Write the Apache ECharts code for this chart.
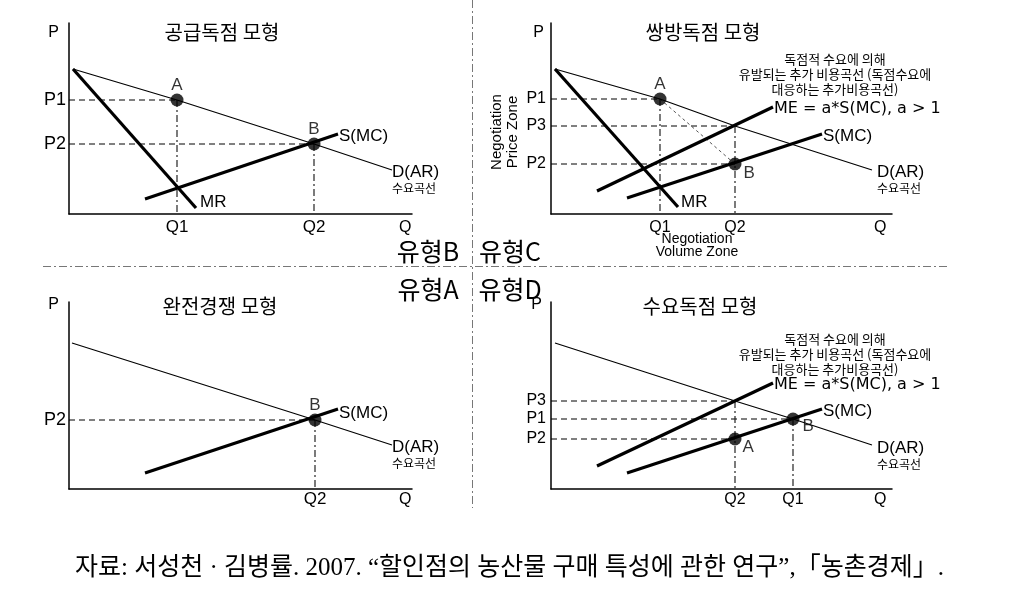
<!DOCTYPE html>
<html><head><meta charset="utf-8">
<script src="https://cdn.jsdelivr.net/npm/echarts@6/dist/echarts.min.js"></script>
<style>html,body{margin:0;padding:0;background:#fff}#c{width:1012px;height:599px}</style>
</head><body><div id="c"></div>
<script>
// ---------------- data ----------------
const panelTitles = ['공급독점 모형', '쌍방독점 모형', '완전경쟁 모형', '수요독점 모형'];
const typeLabels = ['유형B', '유형C', '유형A', '유형D'];
const noteLines = ['독점적 수요에 의해', '유발되는 추가 비용곡선 (독점수요에', '대응하는 추가비용곡선)'];
const meLabel = 'ME = a*S(MC), a > 1';
const caption = '자료: 서성천 · 김병률. 2007. “할인점의 농산물 구매 특성에 관한 연구”,「농촌경제」.';

// Panel 1: 공급독점 모형 (유형B)
const p1Demand = [[4,145],[108,114],[245,70],[323,44]];
const p1MR = [[4,145],[127,6]];
const p1MC = [[76,15],[269,80]];
const p1Points = [['A',108,114],['B',245,70]];
const p1PTicks = [['P1',114],['P2',70]];
const p1QTicks = [['Q1',108],['Q2',245]];
const p1HGuides = [[114,108],[70,245]];   // [price, quantity end]
const p1VGuides = [[108,114],[245,70]];   // [quantity, price top]

// Panel 2: 쌍방독점 모형 (유형C)
const p2Demand = [[4,145],[109,115],[184,88],[321,44]];
const p2MR = [[4,145],[127,7]];
const p2ME = [[46,23],[222,107]];
const p2MC = [[76,16],[271,80]];
const p2Points = [['A',109,115],['B',184,50]];
const p2PTicks = [['P1',115],['P3',88],['P2',50]];
const p2QTicks = [['Q1',109],['Q2',184]];
const p2HGuides = [[115,109],[88,184],[50,184]];
const p2VGuides = [[109,115],[184,88]];
const p2Diag = [[109,115],[184,50]];

// Panel 3: 완전경쟁 모형 (유형A)
const p3Demand = [[3,146],[246,69],[323,44]];
const p3MC = [[76,16],[269,80]];
const p3Points = [['B',246,69]];
const p3PTicks = [['P2',69]];
const p3QTicks = [['Q2',246]];
const p3HGuides = [[69,246]];
const p3VGuides = [[246,69]];

// Panel 4: 수요독점 모형 (유형D)
const p4Demand = [[4,146],[184,88],[242,70],[321,44]];
const p4ME = [[46,23],[222,106]];
const p4MC = [[76,16],[271,80]];
const p4Points = [['A',184,50],['B',242,70]];
const p4PTicks = [['P3',88],['P1',70],['P2',50]];
const p4QTicks = [['Q2',184],['Q1',242]];
const p4HGuides = [[88,184],[70,242],[50,184]];
const p4VGuides = [[184,88],[242,70]];

// ---------------- chart ----------------
const LATIN = "'Liberation Sans', Arial, sans-serif";
const WIDE = "'DejaVu Sans', sans-serif";
const KR = "'Noto Sans CJK KR', sans-serif";
const chart = echarts.init(document.getElementById('c'));

const grids = [
  {left:69, top:23, width:343, height:191},
  {left:551, top:23, width:341, height:191},
  {left:69, top:302, width:343, height:187},
  {left:551, top:302, width:341, height:187}
];
const tickSets = [[p1PTicks,p1QTicks],[p2PTicks,p2QTicks],[p3PTicks,p3QTicks],[p4PTicks,p4QTicks]];
const pFont = [18,16,18,16];
const qFont = [17,16,17,16];
const qMargin = [5,6,2,3];
const pMargin = [3,5,3,5];
const pNameGap = [-2,-2,5,5];
const pNamePad = [10,7,10,9];
const qPad = [6,6,3,3];

const xAxes = [], yAxes = [];
grids.forEach((g,i)=>{
  const pt = tickSets[i][0], qt = tickSets[i][1];
  xAxes.push({gridIndex:i, type:'value', min:0, max:g.width,
    axisLine:{onZero:false, lineStyle:{color:'#000', width:1.5}},
    axisTick:{show:false}, splitLine:{show:false},
    axisLabel:{customValues: qt.map(t=>t[1]), formatter:(v)=>{const f=qt.find(t=>t[1]===+v);return f?f[0]:'';},
      margin:qMargin[i], color:'#000', fontFamily:LATIN, fontSize:qFont[i]},
    name:'Q', nameLocation:'end', nameGap:(i%2===0?-13:-18),
    nameTextStyle:{color:'#000', fontFamily:LATIN, fontSize:16, align:'left', verticalAlign:'top', padding:[qPad[i],0,0,0]}
  });
  yAxes.push({gridIndex:i, type:'value', min:0, max:g.height,
    axisLine:{onZero:false, lineStyle:{color:'#000', width:1.5}},
    axisTick:{show:false}, splitLine:{show:false},
    axisLabel:{customValues: pt.map(t=>t[1]), formatter:(v)=>{const f=pt.find(t=>t[1]===+v);return f?f[0]:'';},
      margin:pMargin[i], color:'#000', fontFamily:LATIN, fontSize:pFont[i]},
    name:'P', nameLocation:'end', nameGap:pNameGap[i],
    nameTextStyle:{color:'#000', fontFamily:LATIN, fontSize:16, align:'right', verticalAlign:'top', padding:[0,pNamePad[i],0,0]}
  });
});

const series = [];
const THIN = {color:'#000', width:1.2};
const THICK = {color:'#000', width:3.2};
const HG = {color:'#000', width:1, type:[6,4]};
const VG = {color:'#222', width:1.2, type:[7,3,2,3]};
const DG = {color:'#555', width:1, type:[3,3]};

function line(g, data, style, endLabel, z){
  const s = {type:'line', xAxisIndex:g, yAxisIndex:g, data, symbol:'none', silent:true,
    animation:false, lineStyle:style, z:z||3};
  if (endLabel) s.endLabel = endLabel;
  series.push(s);
}
function endLab(text, dist, off, font, size){
  return {show:true, formatter:text, distance:dist, offset:off, color:'#000', fontFamily:font||LATIN, fontSize:size||17};
}
function demandLab(dist, off){
  return {show:true, formatter:'{a|D(AR)}\n{b|수요곡선}', distance:dist, offset:off, align:'left',
    rich:{a:{fontFamily:LATIN, fontSize:17, lineHeight:17, color:'#000'},
          b:{fontFamily:KR, fontSize:12, lineHeight:15, color:'#000'}}};
}
function guides(g, hs, vs){
  hs.forEach(h=>line(g, [[0,h[0]],[h[1],h[0]]], HG, null, 1));
  vs.forEach(v=>line(g, [[v[0],v[1]],[v[0],0]], VG, null, 1));
}
function dots(g, pts, labs){
  series.push({type:'scatter', xAxisIndex:g, yAxisIndex:g, symbolSize:13, silent:true, animation:false,
    itemStyle:{color:'#000'}, z:6,
    data: pts.map((p,k)=>({value:[p[1],p[2]], name:p[0],
      label:Object.assign({show:true, formatter:'{b}', color:'#000', fontFamily:LATIN, fontSize:17}, labs[k])}))
  });
}

// Panel 1
guides(0, p1HGuides, p1VGuides);
line(0, p1Demand, THIN, demandLab(0,[0,10]));
line(0, p1MR, THICK, endLab('MR',4,[0,-6]));
line(0, p1MC, THICK, endLab('S(MC)',1,[0,2]));
dots(0, p1Points, [{position:'top', distance:0},{position:'top', distance:0}]);

// Panel 2
guides(1, p2HGuides, p2VGuides);
line(1, p2Diag, DG, null, 1);
line(1, p2Demand, THIN, demandLab(5,[0,10]));
line(1, p2MR, THICK, endLab('MR',3,[0,-5]));
line(1, p2ME, THICK, endLab(meLabel,1,[0,2],WIDE,16));
line(1, p2MC, THICK, endLab('S(MC)',1,[0,2]));
dots(1, p2Points, [{position:'top', distance:0},{position:'right', distance:2, offset:[0,9]}]);

// Panel 3
guides(2, p3HGuides, p3VGuides);
line(2, p3Demand, THIN, demandLab(0,[0,10]));
line(2, p3MC, THICK, endLab('S(MC)',1,[0,4]));
dots(2, p3Points, [{position:'top', distance:0}]);

// Panel 4
guides(3, p4HGuides, p4VGuides);
line(3, p4Demand, THIN, demandLab(5,[0,11]));
line(3, p4ME, THICK, endLab(meLabel,1,[0,2],WIDE,16));
line(3, p4MC, THICK, endLab('S(MC)',1,[0,2]));
dots(3, p4Points, [{position:'right', distance:1, offset:[0,8]},{position:'right', distance:3, offset:[0,7]}]);

// static text & separators
const titlePos = [[222,32],[703,32],[220,306],[700,306]];
const typePos = [[428,251],[510,251],[428,289],[510,289]];
const graphic = [];
graphic.push({type:'line', silent:true, shape:{x1:472.5,y1:0,x2:472.5,y2:508}, style:{stroke:'#777', lineWidth:1, lineDash:[8,3,2,3]}});
graphic.push({type:'line', silent:true, shape:{x1:43,y1:266.5,x2:948,y2:266.5}, style:{stroke:'#777', lineWidth:1, lineDash:[8,3,2,3]}});
panelTitles.forEach((t,i)=>graphic.push({type:'text', silent:true, x:titlePos[i][0], y:titlePos[i][1],
  style:{text:t, fill:'#000', font:"20px 'Noto Sans CJK KR'", align:'center', verticalAlign:'middle'}}));
typeLabels.forEach((t,i)=>graphic.push({type:'text', silent:true, x:typePos[i][0], y:typePos[i][1],
  style:{text:t, fill:'#000', font:"25px 'Noto Sans CJK KR'", align:'center', verticalAlign:'middle'}}));
[[835,74],[835,354]].forEach(p=>graphic.push({type:'text', silent:true, x:p[0], y:p[1],
  style:{text:noteLines.join('\n'), fill:'#000', font:"13px 'Noto Sans CJK KR'", lineHeight:15, align:'center', verticalAlign:'middle'}}));
graphic.push({type:'text', silent:true, x:505, y:132, rotation:Math.PI/2,
  style:{text:'Negotiation\nPrice Zone', fill:'#000', font:"15px 'Liberation Sans'", lineHeight:16, align:'center', verticalAlign:'middle'}});
graphic.push({type:'text', silent:true, x:697, y:246,
  style:{text:'Negotiation\nVolume Zone', fill:'#000', font:"14px 'Liberation Sans'", lineHeight:13, align:'center', verticalAlign:'middle'}});
graphic.push({type:'text', silent:true, x:75, y:568,
  style:{text:caption, fill:'#000', font:"25px 'Liberation Serif', 'Noto Sans CJK KR'", align:'left', verticalAlign:'middle'}});

chart.setOption({
  animation:false,
  backgroundColor:'#fff',
  grid:grids,
  xAxis:xAxes,
  yAxis:yAxes,
  series,
  graphic
});
</script></body></html>
